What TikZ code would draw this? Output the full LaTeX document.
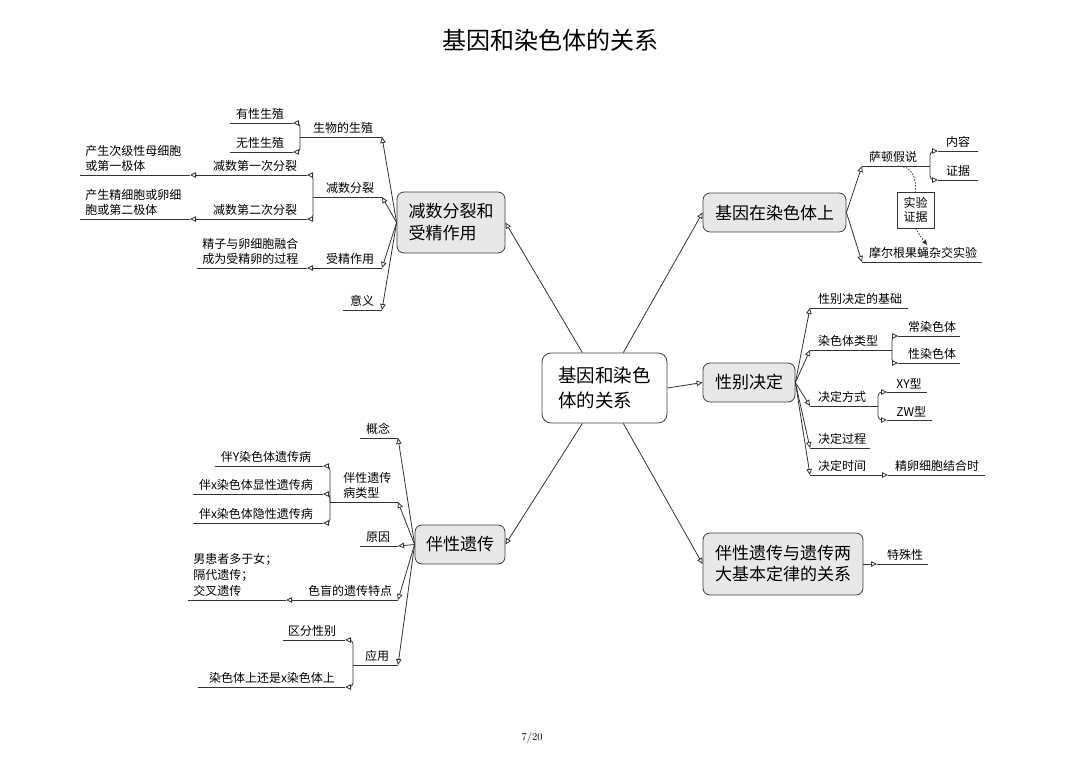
\documentclass[tikz,border=0pt]{standalone}
\usepackage{fontspec}
\newfontfamily\cjk{Noto Sans CJK SC}
\usetikzlibrary{arrows.meta}

\begin{document}
\begin{tikzpicture}[x=1pt, y=-1pt, line width=0.8pt,
  ln/.style={draw=black!80},
  conn/.style={ln, -{Triangle[length=6pt, width=5.5pt, fill=white]}},
  lbl/.style={inner sep=0pt, align=left, font=\cjk\fontsize{12}{15}\selectfont},
  topic/.style={draw=black!75, fill=black!9, rounded corners=7pt, align=left, inner sep=0pt, font=\cjk\fontsize{17}{22}\selectfont}]
\useasboundingbox (0,0) rectangle (1080,764);
\node[font=\cjk\fontsize{24}{28}\selectfont] (title) at (550,40) {基因和染色体的关系};
\node[font=\fontsize{10.5}{12}\selectfont] (page) at (532,738) {7/20};

\node[topic, fill=white, rounded corners=9pt, minimum width=125, minimum height=70, font=\cjk\fontsize{18.5}{25}\selectfont] (root) at (604.5,388) {基因和染色\\体的关系};
\node[topic, minimum width=108, minimum height=61] (meio) at (451,222.5) {减数分裂和\\受精作用};
\node[topic, minimum width=143, minimum height=39] (chrom) at (774.5,212.5) {基因在染色体上};
\node[topic, minimum width=92, minimum height=39] (sex) at (749,382.5) {性别决定};
\node[topic, minimum width=90, minimum height=39] (link) at (460,544.5) {伴性遗传};
\node[topic, minimum width=160, minimum height=62, font=\cjk\fontsize{17}{21}\selectfont] (law) at (783,564) {伴性遗传与遗传两\\大基本定律的关系};

\draw[conn] (root.122) -- (meio.east);
\draw[conn] (root.62) -- (chrom.west);
\draw[conn] (root.east) -- (sex.west);
\draw[conn] (root.238) -- (link.east);
\draw[conn] (root.298) -- (law.west);

\draw[ln] (300,137) coordinate (repl) -- (382,137) coordinate (repr);
\node[lbl, anchor=south] (rep) at (343,134) {生物的生殖};
\draw[ln] (230,123) coordinate (sexrl) -- (293,123) coordinate (sexrr);
\node[lbl, anchor=south] (sexr) at (260,120) {有性生殖};
\draw[ln] (230,152) coordinate (asexl) -- (293,152) coordinate (asexr);
\node[lbl, anchor=south] (asex) at (260,149) {无性生殖};
\draw[ln] (313,197) coordinate (meil) -- (382,197) coordinate (meir);
\node[lbl, anchor=south] (mei) at (350,194) {减数分裂};
\draw[ln] (197,175) coordinate (mfl) -- (307,175) coordinate (mfr);
\node[lbl, anchor=south] (mf) at (255,172) {减数第一次分裂};
\draw[ln] (80,175) coordinate (mfol) -- (190,175) coordinate (mfor);
\node[lbl, anchor=south west] (mfo) at (85,172) {产生次级性母细胞\\或第一极体};
\draw[ln] (197,219) coordinate (msl) -- (307,219) coordinate (msr);
\node[lbl, anchor=south] (ms) at (255,216) {减数第二次分裂};
\draw[ln] (80,219) coordinate (msol) -- (190,219) coordinate (msor);
\node[lbl, anchor=south west] (mso) at (85,216) {产生精细胞或卵细\\胞或第二极体};
\draw[ln] (313,268) coordinate (fertl) -- (382,268) coordinate (fertr);
\node[lbl, anchor=south] (fert) at (350,265) {受精作用};
\draw[ln] (197,268) coordinate (fertol) -- (307,268) coordinate (fertor);
\node[lbl, anchor=south west] (merto) at (202,265) {精子与卵细胞融合\\成为受精卵的过程};
\draw[ln] (343,310) coordinate (sigl) -- (382,310) coordinate (sigr);
\node[lbl, anchor=south] (sig) at (362,307) {意义};

\draw[conn] (meio.west) -- (repr);
\draw[conn] (meio.west) -- (meir);
\draw[conn] (meio.west) -- (fertr);
\draw[conn] (meio.west) -- (sigr);
\draw[conn, rounded corners=4pt] (repl) |- (sexrr);
\draw[conn, rounded corners=4pt] (repl) |- (asexr);
\draw[conn, rounded corners=4pt] (meil) |- (mfr);
\draw[conn, rounded corners=4pt] (meil) |- (msr);
\draw[conn] (mfl) -- (mfor);
\draw[conn] (msl) -- (msor);
\draw[conn] (fertl) -- (fertor);

\draw[ln] (862,166) coordinate (sutl) -- (930,166) coordinate (sutr);
\node[lbl, anchor=south] (sut) at (893,163) {萨顿假说};
\draw[ln] (938,151) coordinate (contl) -- (978,151) coordinate (contr);
\node[lbl, anchor=south] (cont) at (958,148) {内容};
\draw[ln] (938,180) coordinate (evidl) -- (978,180) coordinate (evidr);
\node[lbl, anchor=south] (evid) at (958,177) {证据};
\draw[ln] (862,262) coordinate (morl) -- (982,262) coordinate (morr);
\node[lbl, anchor=south] (mor) at (923,259) {摩尔根果蝇杂交实验};
\node[lbl, draw=black!80, fill=white, align=center, minimum width=37, minimum height=36, font=\cjk\fontsize{12}{14}\selectfont] (exp) at (915.5,210) {实验\\证据};
\coordinate (sutm) at (897,166);
\coordinate (mortop) at (927,245);

\draw[conn] (chrom.east) -- (sutl);
\draw[conn] (chrom.east) -- (morl);
\draw[conn, rounded corners=4pt] (sutr) |- (contl);
\draw[conn, rounded corners=4pt] (sutr) |- (evidl);
\draw[ln, dash pattern=on 1.5pt off 1.5pt] (sutm) .. controls (913,166) and (916,178) .. (exp.north);
\draw[ln, dash pattern=on 1.5pt off 1.5pt, -{Triangle[length=5pt, width=4.5pt]}] (exp.south) .. controls (921,237) .. (mortop);

\draw[ln] (810,308) coordinate (basl) -- (908,308) coordinate (basr);
\node[lbl, anchor=south] (bas) at (860,305) {性别决定的基础};
\draw[ln] (810,350) coordinate (ctyl) -- (892,350) coordinate (ctyr);
\node[lbl, anchor=south] (cty) at (848,347) {染色体类型};
\draw[ln] (898,336) coordinate (autl) -- (960,336) coordinate (autr);
\node[lbl, anchor=south] (aut) at (932,333) {常染色体};
\draw[ln] (898,363) coordinate (sxcl) -- (960,363) coordinate (sxcr);
\node[lbl, anchor=south] (sxc) at (932,360) {性染色体};
\draw[ln] (810,406) coordinate (model) -- (878,406) coordinate (moder);
\node[lbl, anchor=south] (mode) at (842,403) {决定方式};
\draw[ln] (887,392) coordinate (xyl) -- (927,392) coordinate (xyr);
\node[lbl, anchor=south west] (xy) at (896,389) {XY型};
\draw[ln] (887,420) coordinate (zwl) -- (932,420) coordinate (zwr);
\node[lbl, anchor=south west] (zw) at (896,417) {ZW型};
\draw[ln] (810,448) coordinate (procl) -- (870,448) coordinate (procr);
\node[lbl, anchor=south] (proc) at (842,445) {决定过程};
\draw[ln] (810,475) coordinate (whenl) -- (882,475) coordinate (whenr);
\node[lbl, anchor=south] (when) at (842,472) {决定时间};
\draw[ln] (888,475) coordinate (fusel) -- (985,475) coordinate (fuser);
\node[lbl, anchor=south] (fuse) at (937,472) {精卵细胞结合时};

\draw[conn] (sex.east) -- (basl);
\draw[conn] (sex.east) -- (ctyl);
\draw[conn] (sex.east) -- (model);
\draw[conn] (sex.east) -- (procl);
\draw[conn] (sex.east) -- (whenl);
\draw[conn, rounded corners=4pt] (ctyr) |- (autl);
\draw[conn, rounded corners=4pt] (ctyr) |- (sxcl);
\draw[conn, rounded corners=4pt] (moder) |- (xyl);
\draw[conn, rounded corners=4pt] (moder) |- (zwl);
\draw[conn] (whenr) -- (fusel);

\draw[ln] (360,438) coordinate (concl) -- (398,438) coordinate (concr);
\node[lbl, anchor=south] (conc) at (378,435) {概念};
\draw[ln] (330,502) coordinate (kindl) -- (398,502) coordinate (kindr);
\node[lbl, anchor=south west] (kind) at (343,499) {伴性遗传\\病类型};
\draw[ln] (215,466) coordinate (ylkl) -- (323,466) coordinate (ylkr);
\node[lbl, anchor=south] (ylk) at (266,463) {伴Y染色体遗传病};
\draw[ln] (193,494) coordinate (xdoml) -- (323,494) coordinate (xdomr);
\node[lbl, anchor=south] (xdom) at (256,491) {伴x染色体显性遗传病};
\draw[ln] (193,523) coordinate (xrecl) -- (323,523) coordinate (xrecr);
\node[lbl, anchor=south] (xrec) at (256,520) {伴x染色体隐性遗传病};
\draw[ln] (360,546) coordinate (causl) -- (398,546) coordinate (causr);
\node[lbl, anchor=south] (caus) at (378,543) {原因};
\draw[ln] (292,600) coordinate (cbl) -- (398,600) coordinate (cbr);
\node[lbl, anchor=south] (cb) at (350,597) {色盲的遗传特点};
\draw[ln] (188,600) coordinate (cbfl) -- (286,600) coordinate (cbfr);
\node[lbl, anchor=south west, font=\cjk\fontsize{12}{16}\selectfont] (cbf) at (193,597) {男患者多于女；\\隔代遗传；\\交叉遗传};
\draw[ln] (353,665) coordinate (usel) -- (398,665) coordinate (user);
\node[lbl, anchor=south] (use) at (377,662) {应用};
\draw[ln] (283,640) coordinate (sidl) -- (345,640) coordinate (sidr);
\node[lbl, anchor=south] (sid) at (312,637) {区分性别};
\draw[ln] (198,687) coordinate (xchl) -- (345,687) coordinate (xchr);
\node[lbl, anchor=south] (xch) at (272,684) {染色体上还是x染色体上};

\draw[conn] (link.west) -- (concr);
\draw[conn] (link.west) -- (kindr);
\draw[conn] (link.west) -- (causr);
\draw[conn] (link.west) -- (cbr);
\draw[conn] (link.west) -- (user);
\draw[conn, rounded corners=4pt] (kindl) |- (ylkr);
\draw[conn, rounded corners=4pt] (kindl) |- (xdomr);
\draw[conn, rounded corners=4pt] (kindl) |- (xrecr);
\draw[conn] (cbl) -- (cbfr);
\draw[conn, rounded corners=4pt] (usel) |- (sidr);
\draw[conn, rounded corners=4pt] (usel) |- (xchr);

\draw[ln] (877,564) coordinate (specl) -- (928,564) coordinate (specr);
\node[lbl, anchor=south] (spec) at (905,561) {特殊性};
\draw[conn] (law.east) -- (specl);
\end{tikzpicture}
\end{document}
